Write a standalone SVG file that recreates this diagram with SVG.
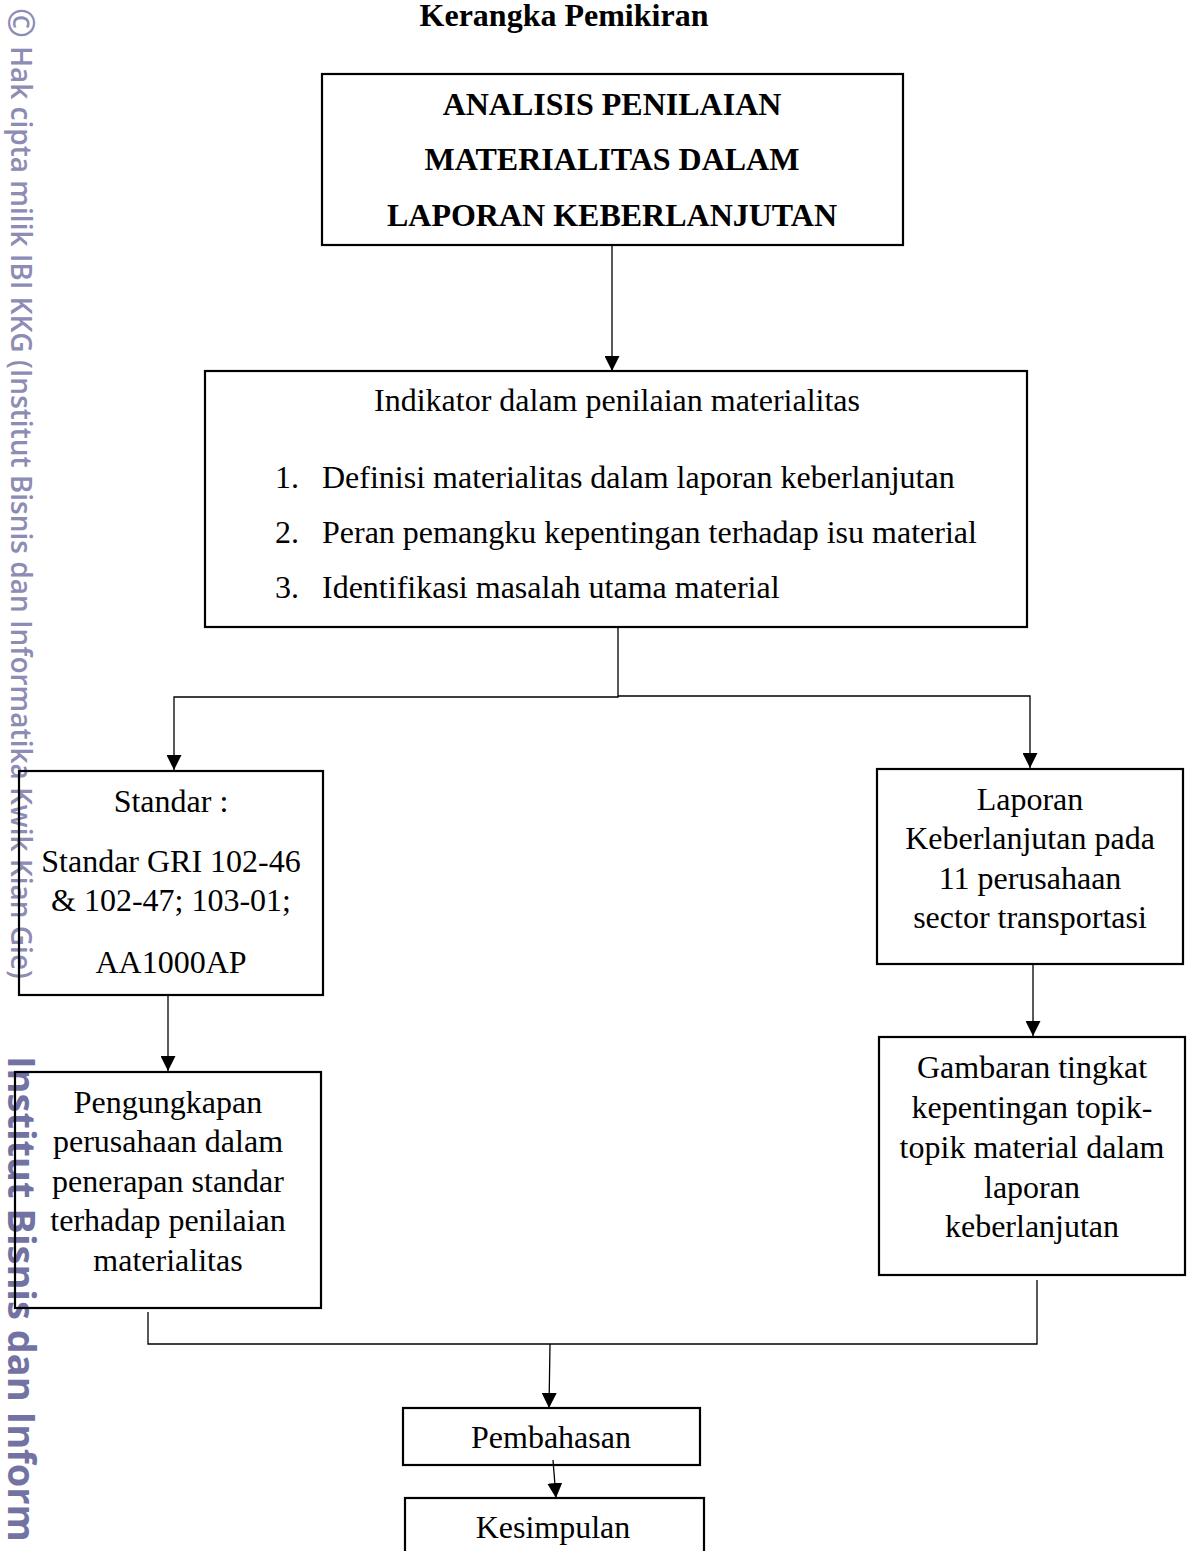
<svg xmlns="http://www.w3.org/2000/svg" width="1195" height="1551" viewBox="0 0 1195 1551">
<defs>
<style>
.t{font-family:"Liberation Serif","Times New Roman",serif;font-size:32px;fill:#000}
.c{text-anchor:middle}
.b{font-weight:bold}
.box{fill:none;stroke:#000;stroke-width:2.2}
.ln{fill:none;stroke:#000;stroke-width:1.3}
.wm{font-family:"Open Sans","Noto Sans",sans-serif;font-weight:600;fill:#8c8cb4}
.wmb{font-family:"Open Sans","Noto Sans",sans-serif;font-weight:bold;fill:#7373a3}
</style>
<marker id="ah" viewBox="0 0 10 10" refX="10" refY="5" markerWidth="15" markerHeight="15" markerUnits="userSpaceOnUse" orient="auto">
<path d="M0,0 L10,5 L0,10 z" fill="#000"/>
</marker>
</defs>
<rect width="1195" height="1551" fill="#fff"/>

<g id="watermark">
<text class="wm" font-size="36" font-weight="normal" transform="translate(8,8) rotate(90)">©</text>
<text class="wm" font-size="28" transform="translate(11,46) rotate(90)">Hak cipta milik IBI KKG (Institut Bisnis dan Informatika Kwik Kian Gie)</text>
<text class="wmb" font-size="38" transform="translate(8,1056) rotate(90)">Institut Bisnis dan Inform</text>
</g>

<text id="title" class="t b c" x="564" y="26" font-size="30">Kerangka Pemikiran</text>

<g id="connectors">
<line class="ln" x1="612" y1="246" x2="612" y2="371" marker-end="url(#ah)"/>
<polyline class="ln" points="618,628 618,697 174,697 174,770" marker-end="url(#ah)"/>
<polyline class="ln" points="618,696 1030,696 1030,768" marker-end="url(#ah)"/>
<line class="ln" x1="168" y1="995" x2="168" y2="1071" marker-end="url(#ah)"/>
<line class="ln" x1="1033" y1="964" x2="1033" y2="1036" marker-end="url(#ah)"/>
<polyline class="ln" points="148,1312 148,1344 1037,1344 1037,1280"/>
<line class="ln" x1="550" y1="1344" x2="549" y2="1408" marker-end="url(#ah)"/>
<line class="ln" x1="553" y1="1460" x2="556" y2="1498" marker-end="url(#ah)"/>
</g>

<g id="n1">
<rect class="box" x="322" y="74" width="581" height="171"/>
<text class="t b c" x="612" y="115">ANALISIS PENILAIAN</text>
<text class="t b c" x="612" y="170">MATERIALITAS DALAM</text>
<text class="t b c" x="612" y="226">LAPORAN KEBERLANJUTAN</text>
</g>

<g id="n2">
<rect class="box" x="205" y="371" width="822" height="256"/>
<text class="t c" x="617" y="411">Indikator dalam penilaian materialitas</text>
<text class="t" x="275" y="488">1.</text>
<text class="t" x="322" y="488">Definisi materialitas dalam laporan keberlanjutan</text>
<text class="t" x="275" y="543">2.</text>
<text class="t" x="322" y="543">Peran pemangku kepentingan terhadap isu material</text>
<text class="t" x="275" y="598">3.</text>
<text class="t" x="322" y="598">Identifikasi masalah utama material</text>
</g>

<g id="n3">
<rect class="box" x="19" y="771" width="304" height="224"/>
<text class="t c" x="171" y="812">Standar :</text>
<text class="t c" x="171" y="872">Standar GRI 102-46</text>
<text class="t c" x="171" y="911">&amp; 102-47; 103-01;</text>
<text class="t c" x="171" y="973">AA1000AP</text>
</g>

<g id="n4">
<rect class="box" x="877" y="769" width="306" height="195"/>
<text class="t c" x="1030" y="810">Laporan</text>
<text class="t c" x="1030" y="849">Keberlanjutan pada</text>
<text class="t c" x="1030" y="889">11 perusahaan</text>
<text class="t c" x="1030" y="928">sector transportasi</text>
</g>

<g id="n5">
<rect class="box" x="15" y="1072" width="306" height="236"/>
<text class="t c" x="168" y="1113">Pengungkapan</text>
<text class="t c" x="168" y="1152">perusahaan dalam</text>
<text class="t c" x="168" y="1192">penerapan standar</text>
<text class="t c" x="168" y="1231">terhadap penilaian</text>
<text class="t c" x="168" y="1271">materialitas</text>
</g>

<g id="n6">
<rect class="box" x="879" y="1037" width="306" height="238"/>
<text class="t c" x="1032" y="1078">Gambaran tingkat</text>
<text class="t c" x="1032" y="1118">kepentingan topik-</text>
<text class="t c" x="1032" y="1158">topik material dalam</text>
<text class="t c" x="1032" y="1198">laporan</text>
<text class="t c" x="1032" y="1237">keberlanjutan</text>
</g>

<g id="n7">
<rect class="box" x="403" y="1408" width="297" height="57"/>
<text class="t c" x="551" y="1448">Pembahasan</text>
</g>

<g id="n8">
<rect class="box" x="405" y="1498" width="299" height="60"/>
<text class="t c" x="553" y="1538">Kesimpulan</text>
</g>
</svg>
